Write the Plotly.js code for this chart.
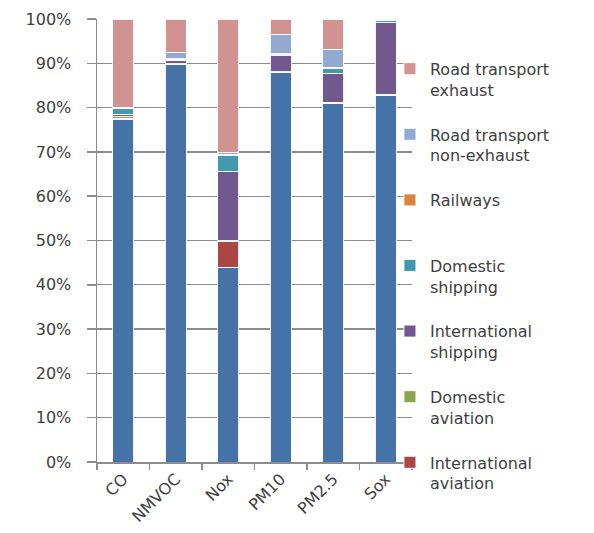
<!DOCTYPE html>
<html><head><meta charset="utf-8">
<script src="https://cdn.plot.ly/plotly-3.0.1.min.js"></script>
<style>body{margin:0;background:#fff}</style>
</head><body>
<div id="chart" style="width:594px;height:533px"></div>
<script>
const categories = ['CO','NMVOC','Nox','PM10','PM2.5','Sox'];
const otherSectors   = [77.3, 89.7, 44.0, 87.9, 81.0, 82.8];
const intlAviation   = [0.3, 0.1, 5.8, 0.1, 0.1, 0.1];
const domAviation    = [0.3, 0.1, 0.2, 0.1, 0.1, 0.0];
const intlShipping   = [0.6, 0.8, 15.5, 3.6, 6.6, 16.2];
const domShipping    = [1.2, 0.2, 3.7, 0.2, 1.0, 0.6];
const railways       = [0.1, 0.1, 0.3, 0.3, 0.3, 0.1];
const roadNonExhaust = [0.2, 1.5, 0.3, 4.3, 4.1, 0.0];
const roadExhaust    = [20.0, 7.5, 30.2, 3.5, 6.8, 0.2];

const series = [
  {name:'Other', y:otherSectors, color:'#4572A7', show:false},
  {name:'International<br>aviation', y:intlAviation, color:'#AA4643'},
  {name:'Domestic<br>aviation', y:domAviation, color:'#89A54E'},
  {name:'International<br>shipping', y:intlShipping, color:'#71588F'},
  {name:'Domestic<br>shipping', y:domShipping, color:'#4198AF'},
  {name:'Railways<br>\u00a0', y:railways, color:'#DB843D'},
  {name:'Road transport<br>non-exhaust', y:roadNonExhaust, color:'#93A9CF'},
  {name:'Road transport<br>exhaust', y:roadExhaust, color:'#D19392'}
];
const traces = series.map((s,i)=>({
  type:'bar', x:categories, y:s.y, name:s.name, legendgroup:'g'+i,
  legendrank: 100 - i,
  showlegend: s.show!==false,
  marker:{color:s.color, line:{color:'rgba(255,255,255,0.9)', width:1}},
  hoverinfo:'name+y'
}));
const layout = {
  width:594, height:533,
  margin:{l:97, r:182, t:19, b:71},
  barmode:'stack', bargap:0.6,
  paper_bgcolor:'#fff', plot_bgcolor:'#fff',
  font:{family:'DejaVu Sans, Verdana, sans-serif', color:'#404040', size:15},
  xaxis:{type:'category', showgrid:false, showline:true, linecolor:'#8c8c8c', linewidth:1.5,
    ticks:'outside', ticklen:6, tickcolor:'#8c8c8c', tickwidth:1.5, tickson:'boundaries',
    tickangle:-45, tickfont:{size:16, color:'#404040'}, fixedrange:true},
  yaxis:{range:[0,100], dtick:10, ticksuffix:'%', showgrid:true, gridcolor:'#8c8c8c', gridwidth:1.3,
    showline:true, linecolor:'#8c8c8c', linewidth:1.5, ticks:'outside', ticklen:9,
    tickcolor:'#8c8c8c', tickwidth:1.5, ticklabelstandoff:12, tickfont:{size:16, color:'#404040'},
    zeroline:false, fixedrange:true},
  legend:{x:0.93, xanchor:'left', y:0.926, yanchor:'top', traceorder:'grouped',
    tracegroupgap:21, valign:'top', font:{size:16, color:'#404040'}, bgcolor:'rgba(255,255,255,0)',
    itemwidth:30},
  showlegend:true
};
Plotly.newPlot('chart', traces, layout, {displayModeBar:false, staticPlot:true});
</script>
</body></html>
